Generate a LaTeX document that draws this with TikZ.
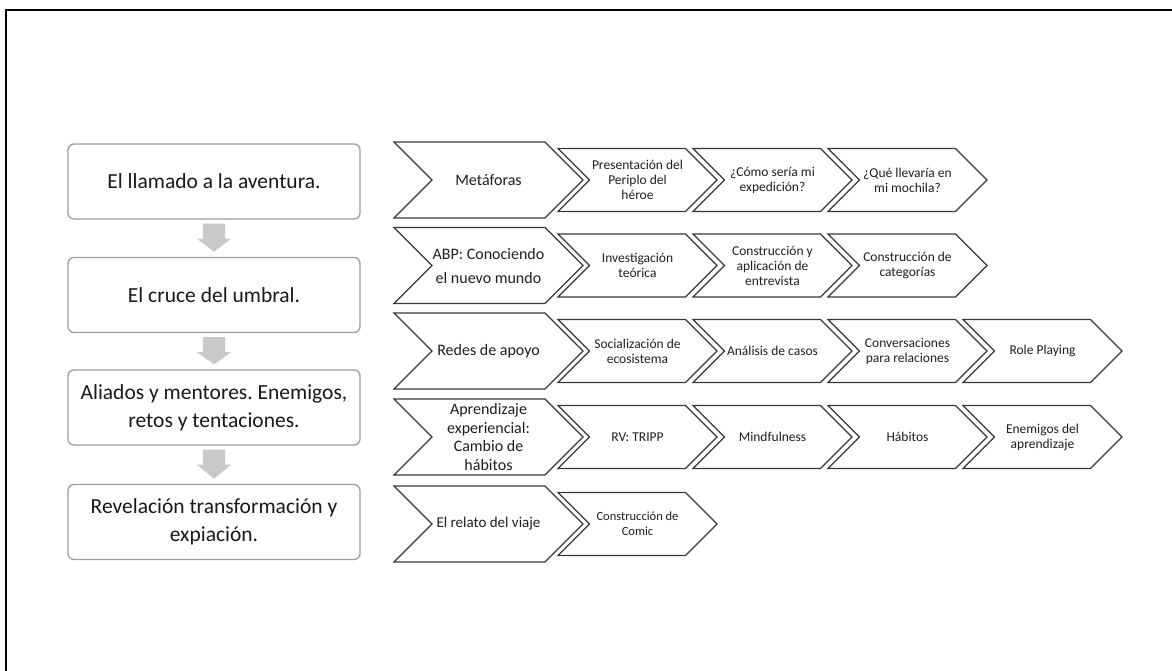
\documentclass[tikz,border=0pt]{standalone}
\usepackage{fontspec}
\setmainfont{Carlito}
\usetikzlibrary{calc}
\frenchspacing
\newcommand\chevmainfont{\fontsize{16}{21}\selectfont}
\newcommand\chevsubfont{\fontsize{13.5}{15}\selectfont}
\newcommand\chevsmallfont{\fontsize{12.5}{15}\selectfont}
% #1 name, #2 left x, #3 centre y, #4 width to tip, #5 half height, #6 font, #7 text
\newcommand\chevshape[7]{%
  \draw[chevline] (#2,#3-#5) -- (#2+#4-#5,#3-#5) -- (#2+#4,#3) -- (#2+#4-#5,#3+#5) -- (#2,#3+#5) -- (#2+#5,#3) -- cycle;
  \node[chevtext,font=#6] (#1) at (#2+#4/2,#3) {#7};
}
\newcommand\mainchev[4]{\chevshape{#1}{394}{#2}{189}{38}{#3}{#4}}
\newcommand\subchev[5]{\chevshape{#1}{558+135*#2}{#3}{159}{31.5}{#4}{#5}}
\newcommand\grayarrow[2]{%
  \fill[garrow] ($(#1.south)+(-11,4)$) -- ($(#1.south)+(11,4)$) -- ($(#1.south)+(11,19)$) -- ($(#1.south)+(17,19)$) -- ($(#2.north)+(0,-5)$) -- ($(#1.south)+(-17,19)$) -- ($(#1.south)+(-11,19)$) -- cycle;
}
\begin{document}
\begin{tikzpicture}[x=1pt,y=-1pt,
  leftbox/.style={draw=black!38, line width=1.3pt, rounded corners=6pt, fill=white,
    minimum width=292pt, minimum height=75pt, align=center, inner sep=0pt,
    text=black!90, font=\fontsize{21.5}{28}\selectfont},
  chevline/.style={draw=black!78, line width=1.3pt, fill=white, line join=miter},
  chevtext/.style={align=center, inner sep=0pt, text=black!88},
  garrow/.style={fill=black!21},
  frameline/.style={draw=black, line width=2pt}]
\useasboundingbox (0,0) rectangle (1172,670);
\fill[white] (0,0) rectangle (1172,670);
\coordinate (fbl) at (6,671);
\coordinate (ftl) at (6,10);
\coordinate (ftr) at (1173,10);
\draw[frameline] (fbl) -- (ftl) -- (ftr);

% left column
\node[leftbox] (b1) at (214,181.5) {El llamado a la aventura.};
\node[leftbox] (b2) at (214,295) {El cruce del umbral.};
\node[leftbox] (b3) at (214,407.5) {Aliados y mentores. Enemigos,\\retos y tentaciones.};
\node[leftbox] (b4) at (214,522) {Revelación transformación y\\expiación.};
\grayarrow{b1}{b2}
\grayarrow{b2}{b3}
\grayarrow{b3}{b4}

% row 1
\mainchev{m1}{180}{\chevmainfont}{Metáforas}
\subchev{s11}{0}{180}{\chevsubfont}{Presentación del\\Periplo del\\héroe}
\subchev{s12}{1}{180}{\chevsubfont}{¿Cómo sería mi\\expedición?}
\subchev{s13}{2}{180}{\chevsubfont}{¿Qué llevaría en\\mi mochila?}

% row 2
\mainchev{m2}{265.5}{\fontsize{16}{24}\selectfont}{ABP: Conociendo\\el nuevo mundo}
\subchev{s21}{0}{265.5}{\chevsubfont}{Investigación\\teórica}
\subchev{s22}{1}{265.5}{\chevsubfont}{Construcción y\\aplicación de\\entrevista}
\subchev{s23}{2}{265.5}{\chevsubfont}{Construcción de\\categorías}

% row 3
\mainchev{m3}{351}{\chevmainfont}{Redes de apoyo}
\subchev{s31}{0}{351}{\chevsubfont}{Socialización de\\ecosistema}
\subchev{s32}{1}{351}{\chevsubfont}{Análisis de casos}
\subchev{s33}{2}{351}{\chevsubfont}{Conversaciones\\para relaciones}
\subchev{s34}{3}{351}{\chevsubfont}{Role Playing}

% row 4
\mainchev{m4}{437}{\fontsize{16}{18.7}\selectfont}{Aprendizaje\\experiencial:\\Cambio de\\hábitos}
\subchev{s41}{0}{437}{\chevsubfont}{RV: TRIPP}
\subchev{s42}{1}{437}{\chevsubfont}{Mindfulness}
\subchev{s43}{2}{437}{\chevsubfont}{Hábitos}
\subchev{s44}{3}{437}{\chevsubfont}{Enemigos del\\aprendizaje}

% row 5
\mainchev{m5}{524}{\fontsize{15}{18}\selectfont}{El relato del viaje}
\subchev{s51}{0}{524}{\chevsmallfont}{Construcción de\\Comic}
\end{tikzpicture}
\end{document}
